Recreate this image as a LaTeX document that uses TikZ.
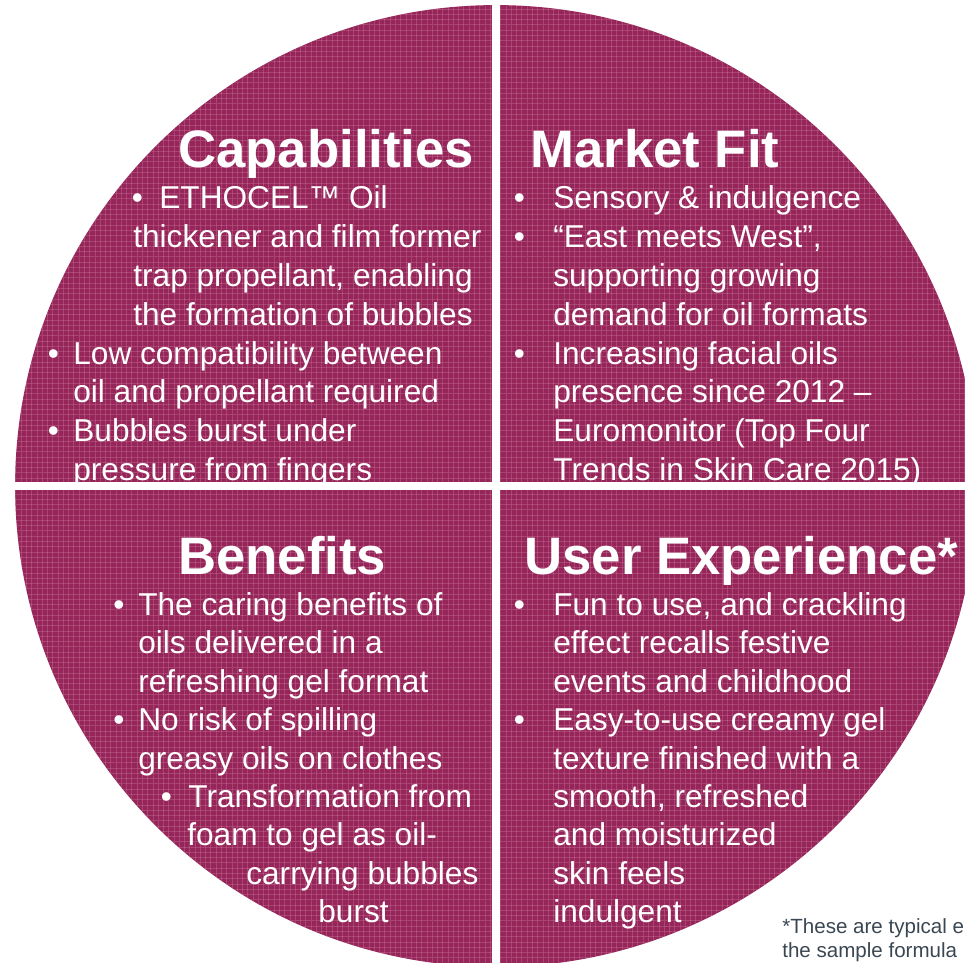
\documentclass[tikz,border=0pt]{standalone}
\usepackage{fontspec}
\setmainfont{Liberation Sans}
\usetikzlibrary{patterns}
\definecolor{berry}{RGB}{150,38,90}
\definecolor{berrylight}{RGB}{205,125,160}
\definecolor{notegray}{RGB}{58,70,82}
\newcommand{\blt}[1]{\makebox[#1][l]{\textbullet}}
\tikzset{
  body/.style={anchor=base west, inner sep=0pt, text=white, font=\fontsize{18}{22}\selectfont},
  head/.style={anchor=base west, inner sep=0pt, text=white, font=\fontsize{30}{36}\selectfont\bfseries},
  note/.style={anchor=base west, inner sep=0pt, text=notegray, font=\fontsize{11.7}{14}\selectfont}
}

\begin{document}
\begin{tikzpicture}[x=0.02cm, y=-0.02cm]
    \useasboundingbox (0,0) rectangle (965,963);
    % disc and dividers
    \fill[berry] (496,486) circle[radius=9.62cm];
    \fill[pattern=grid, pattern color=berrylight, opacity=0.35] (496,486) circle[radius=9.62cm];
    \fill[white] (492,0) rectangle (500,970);
    \fill[white] (10,482) rectangle (980,490);
    % headings
    \node[head] (capHead) at (178,168) {Capabilities};
    \node[head] (fitHead) at (530,168) {Market Fit};
    \node[head] (benHead) at (178,574) {Benefits};
    \node[head] (uxHead) at (524,574) {User Experience*};
    % capabilities
    \foreach \px/\k/\txt [count=\i] in {
        131.5/0/{\blt{0.55cm}ETHOCEL™ Oil},
        133/1/{thickener and film former},
        133/2/{trap propellant, enabling},
        133/3/{the formation of bubbles},
        47.5/4/{\blt{0.51cm}Low compatibility between},
        73/5/{oil and propellant required},
        47.5/6/{\blt{0.51cm}Bubbles burst under},
        73/7/{pressure from fingers}}
        \node[body] (cap\i) at (\px,209+38.75*\k) {\txt};
    % market fit
    \foreach \px/\k/\txt [count=\i] in {
        513.5/0/{\blt{0.79cm}Sensory \& indulgence},
        513.5/1/{\blt{0.79cm}“East meets West”,},
        553/2/{supporting growing},
        553/3/{demand for oil formats},
        513.5/4/{\blt{0.79cm}Increasing facial oils},
        553/5/{presence since 2012 –},
        553/6/{Euromonitor (Top Four},
        553/7/{Trends in Skin Care 2015)}}
        \node[body] (fit\i) at (\px,209+38.75*\k) {\txt};
    % benefits
    \foreach \px/\k/\txt [count=\i] in {
        113/0/{\blt{0.5cm}The caring benefits of},
        138/1/{oils delivered in a},
        138/2/{refreshing gel format},
        113/3/{\blt{0.5cm}No risk of spilling},
        138/4/{greasy oils on clothes},
        160.5/5/{\blt{0.55cm}Transformation from},
        187/6/{foam to gel as oil-},
        246/7/{carrying bubbles},
        318/8/{burst}}
        \node[body] (ben\i) at (\px,615.5+38.4*\k) {\txt};
    % user experience
    \foreach \px/\k/\txt [count=\i] in {
        513.5/0/{\blt{0.79cm}Fun to use, and crackling},
        553/1/{effect recalls festive},
        553/2/{events and childhood},
        513.5/3/{\blt{0.79cm}Easy-to-use creamy gel},
        553/4/{texture finished with a},
        553/5/{smooth, refreshed},
        553/6/{and moisturized},
        553/7/{skin feels},
        553/8/{indulgent}}
        \node[body] (ux\i) at (\px,615.5+38.4*\k) {\txt};
    % footnote
    \node[note] (note1) at (782,933) {*These are typical e};
    \node[note] (note2) at (782,957) {the sample formula};
\end{tikzpicture}
\end{document}
